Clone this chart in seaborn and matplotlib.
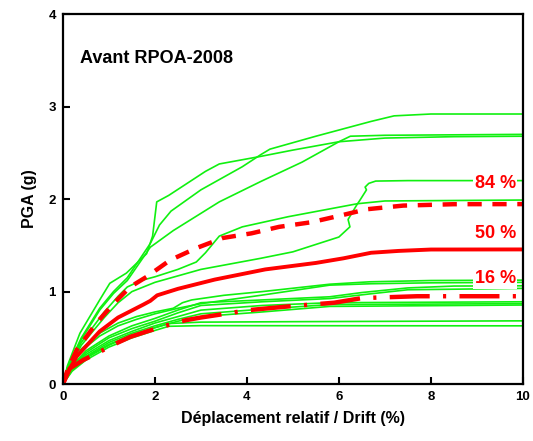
import matplotlib
matplotlib.use("Agg")
import matplotlib.pyplot as plt
import seaborn as sns

sns.set_style("ticks")
plt.rcParams["font.family"] = ["Liberation Sans", "DejaVu Sans"]
plt.rcParams["font.weight"] = "bold"
plt.rcParams.update({"text.color": "black", "axes.labelcolor": "black",
                     "xtick.color": "black", "ytick.color": "black",
                     "axes.edgecolor": "black"})

# --- individual IDA curves (drift %, PGA g) ---
green_curves = {
    "A": ([0, 0.1, 0.37, 0.8, 1.02, 1.38, 1.82, 1.95, 2.04, 2.3, 3.1, 3.4, 4.28, 5.0, 6.0, 7.0, 8.5, 10],
          [0, 0.2, 0.55, 0.91, 1.09, 1.2, 1.41, 1.6, 1.97, 2.04, 2.3, 2.38, 2.46, 2.53, 2.62, 2.66, 2.675, 2.68]),
    "B": ([0, 0.1, 0.4, 0.8, 1.1, 1.4, 1.9, 2.1, 2.35, 3.0, 3.9, 4.3, 4.5, 5.5, 6.7, 7.2, 8.0, 10],
          [0, 0.18, 0.5, 0.82, 1.0, 1.15, 1.52, 1.72, 1.87, 2.1, 2.35, 2.48, 2.54, 2.68, 2.84, 2.9, 2.92, 2.92]),
    "C": ([0, 0.1, 0.4, 0.8, 1.1, 1.4, 1.9, 2.4, 3.4, 4.3, 5.2, 6.0, 6.25, 7.0, 10],
          [0, 0.17, 0.48, 0.8, 0.98, 1.12, 1.48, 1.66, 1.97, 2.19, 2.4, 2.62, 2.68, 2.69, 2.70]),
    "D": ([0, 0.1, 0.4, 0.9, 1.2, 1.5, 2.0, 3.0, 4.3, 5.0, 6.0, 6.24, 6.2, 6.38, 6.46, 6.6, 6.57, 6.65, 6.8, 7.5, 10],
          [0, 0.15, 0.42, 0.72, 0.88, 1.0, 1.1, 1.24, 1.36, 1.43, 1.59, 1.7, 1.78, 1.93, 1.99, 2.1, 2.13, 2.17, 2.195, 2.2, 2.2]),
    "E": ([0, 0.1, 0.4, 0.9, 1.2, 1.4, 1.7, 2.0, 2.5, 2.9, 3.1, 3.4, 3.9, 4.9, 6.4, 7.0, 10],
          [0, 0.16, 0.45, 0.78, 0.95, 1.05, 1.12, 1.16, 1.24, 1.32, 1.42, 1.6, 1.7, 1.81, 1.95, 1.98, 1.99]),
    "G1": ([0, 0.15, 0.4, 0.8, 1.2, 1.6, 2.0, 2.4, 2.6, 2.8, 3.5, 4.33, 5.8, 6.67, 8.0, 10],
           [0, 0.2, 0.38, 0.55, 0.66, 0.73, 0.78, 0.82, 0.88, 0.91, 0.96, 1.0, 1.08, 1.106, 1.12, 1.124]),
    "G2": ([0, 0.15, 0.4, 0.8, 1.2, 1.6, 2.0, 2.5, 3.0, 4.3, 5.8, 6.7, 8.0, 10],
           [0, 0.18, 0.36, 0.52, 0.63, 0.7, 0.76, 0.82, 0.87, 0.96, 1.07, 1.085, 1.095, 1.10]),
    "G3": ([0, 0.2, 0.5, 1.0, 1.5, 2.0, 2.5, 3.0, 4.33, 5.8, 6.5, 7.5, 8.5, 10],
           [0, 0.2, 0.36, 0.52, 0.63, 0.71, 0.8, 0.88, 0.91, 0.944, 0.99, 1.04, 1.06, 1.063]),
    "G4": ([0, 0.2, 0.5, 1.0, 1.5, 2.0, 2.5, 3.0, 4.33, 5.8, 6.67, 7.5, 10],
           [0, 0.19, 0.34, 0.5, 0.6, 0.68, 0.77, 0.85, 0.89, 0.925, 0.975, 1.02, 1.035]),
    "G5": ([0, 0.2, 0.5, 1.0, 1.5, 2.0, 2.5, 3.0, 4.33, 5.8, 10],
           [0, 0.18, 0.32, 0.47, 0.57, 0.66, 0.73, 0.8, 0.85, 0.88, 0.89]),
    "G6": ([0, 0.2, 0.5, 1.0, 1.5, 2.0, 2.5, 3.0, 4.33, 5.8, 10],
           [0, 0.17, 0.3, 0.45, 0.55, 0.63, 0.7, 0.76, 0.81, 0.86, 0.87]),
    "G7": ([0, 0.2, 0.5, 1.0, 1.5, 2.0, 2.5, 3.0, 4.33, 5.8, 10],
           [0, 0.16, 0.29, 0.43, 0.53, 0.61, 0.68, 0.73, 0.78, 0.84, 0.855]),
    "G8": ([0, 0.2, 0.5, 1.0, 1.5, 2.0, 2.3, 3.0, 5.0, 10],
           [0, 0.15, 0.28, 0.42, 0.53, 0.61, 0.655, 0.67, 0.675, 0.684]),
    "G9": ([0, 0.2, 0.5, 1.0, 1.5, 2.0, 2.3, 3.0, 10],
           [0, 0.14, 0.26, 0.4, 0.5, 0.58, 0.625, 0.632, 0.63]),
}

# --- fractiles ---
p84_x = [0, 0.1, 0.3, 0.73, 1.1, 1.46, 1.82, 2.33, 2.9, 3.48, 4.1, 4.7, 5.4, 6.1, 6.6, 7.4, 8.5, 10]
p84_y = [0, 0.15, 0.37, 0.66, 0.87, 1.05, 1.16, 1.34, 1.47, 1.58, 1.63, 1.70, 1.75, 1.83, 1.89, 1.93, 1.945, 1.946]
p50_x = [0, 0.1, 0.3, 0.8, 1.2, 1.75, 1.9, 2.05, 2.5, 3.3, 4.4, 5.5, 6.1, 6.3, 6.7, 7.3, 8.0, 10]
p50_y = [0, 0.12, 0.30, 0.57, 0.72, 0.86, 0.9, 0.96, 1.03, 1.13, 1.24, 1.31, 1.36, 1.38, 1.42, 1.44, 1.455, 1.456]
p16_x = [0, 0.15, 0.44, 0.73, 1.07, 1.46, 1.83, 2.15, 2.66, 3.0, 3.53, 4.04, 4.9, 5.9, 6.5, 7.7, 10]
p16_y = [0, 0.17, 0.26, 0.33, 0.42, 0.51, 0.57, 0.62, 0.69, 0.72, 0.76, 0.80, 0.84, 0.88, 0.93, 0.95, 0.95]

fig = plt.figure(figsize=(5.33, 4.41), dpi=100)
ax = fig.add_axes([0.118, 0.129, 0.863, 0.839])

for name, (xs, ys) in green_curves.items():
    sns.lineplot(x=xs, y=ys, sort=False, estimator=None, color="#10f010", lw=1.2, ax=ax)

sns.lineplot(x=p50_x, y=p50_y, sort=False, estimator=None, color="red", lw=2.8, ax=ax)
l84 = sns.lineplot(x=p84_x, y=p84_y, sort=False, estimator=None, color="red", lw=3.2, ax=ax).lines[-1]
l84.set_dashes((3.2, 2.4))
l16 = sns.lineplot(x=p16_x, y=p16_y, sort=False, estimator=None, color="red", lw=3.2, ax=ax).lines[-1]
l16.set_dashes((9, 3, 0.7, 3))

box = dict(facecolor="white", edgecolor="none", pad=1)
for txt, yy in [("84 %", 2.17), ("50 %", 1.63), ("16 %", 1.14)]:
    ax.text(9.85, yy, txt, color="red", fontsize=13, fontweight="bold",
            ha="right", va="center", bbox=box)

ax.text(0.37, 3.52, "Avant RPOA-2008", fontsize=13, fontweight="bold", va="center")

ax.set_xlim(0, 10)
ax.set_ylim(0, 4)
ax.set_xticks([0, 2, 4, 6, 8, 10])
ax.set_yticks([0, 1, 2, 3, 4])
ax.tick_params(direction="in", length=5, width=1.5, labelsize=9.5, pad=5)
for lab in ax.get_xticklabels() + ax.get_yticklabels():
    lab.set_fontweight("bold")
for sp in ax.spines.values():
    sp.set_linewidth(1.6)
ax.set_xlabel("Déplacement relatif / Drift (%)", fontsize=11.5, fontweight="bold", labelpad=6)
ax.set_ylabel("PGA (g)", fontsize=11.5, fontweight="bold", labelpad=8)

fig.savefig("out.png", dpi=100)
